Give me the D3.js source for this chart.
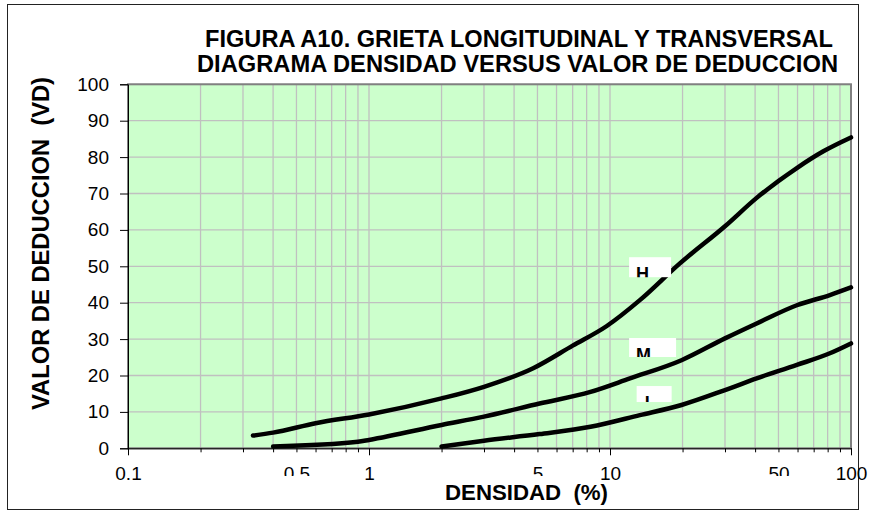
<!DOCTYPE html>
<html>
<head>
<meta charset="utf-8">
<script src="https://cdn.jsdelivr.net/npm/d3@7"></script>
<style>
  body { margin: 0; background: #fff; }
  svg { display: block; font-family: Arial, "Liberation Sans", sans-serif; }
</style>
</head>
<body>
<div id="graphicContainer"></div>
<script>

// densidad (%) , valor de deduccion
var curveH = [[0.33,3.5],[0.4,4.3],[0.6,6.9],[1,9.3],[2,13.7],[3,16.9],[4.8,22],[7,28.2],[9.7,33.6],[13.3,40.7],[19.5,50.8],[30,61],[40.6,68.8],[59.6,77],[76.8,81.6],[100,85.4]];
var curveM = [[0.4,0.5],[0.9,1.8],[1,2.3],[2,6.4],[3,8.7],[5.1,12.3],[8.3,15.5],[12.1,19.2],[19.8,24.2],[30,30.2],[40.6,34.3],[59.6,39.3],[81.7,42.1],[100,44.2]];
var curveL = [[2,0.5],[3,2.1],[5.1,3.9],[8.3,5.9],[13.3,9.1],[19.8,11.9],[30,16],[40.6,19.2],[59.6,22.9],[81.7,26.1],[100,28.8]];

var xLabels = [0.1, 0.5, 1, 5, 10, 50, 100];
var xCutLabels = [0.5, 5, 50];
var yTicks = [0,10,20,30,40,50,60,70,80,90,100];

var severity = [
  {name: "H", x: 12.0, y: 52.5, w: 42, h: 20},
  {name: "M", x: 12.0, y: 30.3, w: 47, h: 19},
  {name: "L", x: 12.9, y: 17.1, w: 35, h: 16}
];

var W = 878, H = 511;
var margin = {top: 84.3, left: 128, right: 27, bottom: 62.7};
var width = W - margin.left - margin.right,
    height = H - margin.top - margin.bottom;

var svg = d3.select("#graphicContainer").append("svg")
    .attr("width", W)
    .attr("height", H);

// outer chart border
svg.append("rect")
    .attr("x", 7.5).attr("y", 4.5)
    .attr("width", 851).attr("height", 505)
    .attr("fill", "none")
    .attr("stroke", "#222")
    .attr("stroke-width", 1);

var x = d3.scaleLog().domain([0.1, 100]).range([0, width]);
var y = d3.scaleLinear().domain([0, 100]).range([height, 0]);

// all log grid positions
var allTicks = [];
[0.1, 1, 10].forEach(function(base) {
    for (var i = 1; i < 10; i++) allTicks.push(+(base * i).toPrecision(3));
});
allTicks.push(100);

var g = svg.append("g")
    .attr("transform", "translate(" + margin.left + "," + margin.top + ")");

g.append("rect")
    .attr("width", width).attr("height", height)
    .attr("fill", "#ccffcc");

// grid
g.selectAll(".vgrid").data(allTicks).enter().append("line")
    .attr("class", "vgrid")
    .attr("x1", function(d) { return x(d); })
    .attr("x2", function(d) { return x(d); })
    .attr("y1", 0).attr("y2", height)
    .attr("stroke", "#c0c0c0").attr("stroke-width", 1.3);

g.selectAll(".hgrid").data(yTicks).enter().append("line")
    .attr("class", "hgrid")
    .attr("x1", 0).attr("x2", width)
    .attr("y1", function(d) { return y(d); })
    .attr("y2", function(d) { return y(d); })
    .attr("stroke", "#c0c0c0").attr("stroke-width", 1.3);

g.append("rect")
    .attr("width", width).attr("height", height)
    .attr("fill", "none")
    .attr("stroke", "#808080")
    .attr("stroke-width", 2);

// axes
var yAxis = d3.axisLeft(y).tickValues(yTicks).tickSize(8).tickPadding(11);
var ya = g.append("g").call(yAxis);
ya.select(".domain").attr("stroke", "#000");
ya.selectAll("text").attr("font-size", 19).attr("fill", "#000")
    .attr("font-family", "Arial, 'Liberation Sans', sans-serif");

var xAxis = d3.axisBottom(x)
    .tickValues(allTicks)
    .tickSize(4)
    .tickPadding(14)
    .tickFormat(function(d) { return xLabels.indexOf(d) >= 0 ? String(d) : ""; });
var xa = g.append("g")
    .attr("transform", "translate(0," + height + ")")
    .call(xAxis);
xa.select(".domain").attr("stroke", "#000");
xa.selectAll(".tick line")
    .attr("y2", function(d) { return [0.1, 1, 10, 100].indexOf(d) >= 0 ? 7 : 4; });
xa.selectAll("text").attr("font-size", 19).attr("fill", "#000")
    .attr("font-family", "Arial, 'Liberation Sans', sans-serif");

var defs = svg.append("defs");
defs.append("clipPath").attr("id", "cutLabel")
  .append("rect").attr("x", -60).attr("y", 0).attr("width", 120).attr("height", 27.7);
xa.selectAll(".tick text")
    .filter(function(d) { return xCutLabels.indexOf(d) >= 0; })
    .attr("clip-path", "url(#cutLabel)");

// curves
var line = d3.line()
    .x(function(d) { return x(d[0]); })
    .y(function(d) { return y(d[1]); })
    .curve(d3.curveMonotoneX);

[curveH, curveM, curveL].forEach(function(c) {
    g.append("path")
        .datum(c)
        .attr("d", line)
        .attr("fill", "none")
        .attr("stroke", "#000")
        .attr("stroke-width", 4.5)
        .attr("stroke-linecap", "round")
        .attr("stroke-linejoin", "round");
});

// severity labels (white boxes, letters cut by the box)
severity.forEach(function(s, i) {
    var bx = x(s.x), by = y(s.y);
    defs.append("clipPath").attr("id", "sev" + i)
      .append("rect").attr("x", bx).attr("y", by).attr("width", s.w).attr("height", s.h);
    g.append("rect")
        .attr("x", bx).attr("y", by)
        .attr("width", s.w).attr("height", s.h)
        .attr("fill", "#fff");
    g.append("text")
        .attr("x", bx + (s.name === "L" ? 8 : 7))
        .attr("y", by + 23)
        .attr("clip-path", "url(#sev" + i + ")")
        .attr("font-size", 18)
        .attr("font-weight", "bold")
        .text(s.name);
});

// titles
var title = svg.append("text")
    .attr("font-size", 23)
    .attr("font-weight", "bold");
title.append("tspan").attr("x", 205).attr("y", 46.7)
    .attr("textLength", 628).attr("lengthAdjust", "spacingAndGlyphs")
    .text("FIGURA A10. GRIETA LONGITUDINAL Y TRANSVERSAL");
title.append("tspan").attr("x", 197).attr("y", 71.7)
    .attr("textLength", 641).attr("lengthAdjust", "spacingAndGlyphs")
    .text("DIAGRAMA DENSIDAD VERSUS VALOR DE DEDUCCION");

svg.append("text")
    .attr("transform", "translate(48.5,410) rotate(-90)")
    .attr("font-size", 23)
    .attr("font-weight", "bold")
    .attr("xml:space", "preserve")
    .attr("textLength", 333).attr("lengthAdjust", "spacingAndGlyphs")
    .text("VALOR DE DEDUCCION  (VD)");

svg.append("text")
    .attr("x", 445).attr("y", 500)
    .attr("font-size", 22)
    .attr("font-weight", "bold")
    .attr("xml:space", "preserve")
    .attr("textLength", 163).attr("lengthAdjust", "spacingAndGlyphs")
    .text("DENSIDAD  (%)");

</script>
</body>
</html>
